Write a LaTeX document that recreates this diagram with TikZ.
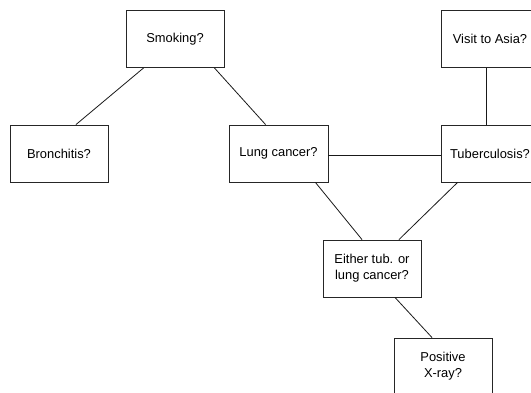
\documentclass[tikz,border=0pt]{standalone}
\usepackage{fontspec}
\setmainfont{Liberation Sans}
\begin{document}
\begin{tikzpicture}[x=1pt,y=-1pt,
  box/.style={draw=black!85, line width=0.9pt, minimum width=98pt, minimum height=57pt, inner sep=0pt, align=center, font=\fontsize{12.9}{16}\selectfont},
  link/.style={draw=black!90, line width=0.8pt}]
\useasboundingbox (0,0) rectangle (531,392);
\clip (0,0) rectangle (531,392);
\node[box] (smoking) at (175,39) {Smoking?};
\node[box] (bron) at (59,153.5) {Bronchitis?};
\node[box, minimum width=99pt] (lung) at (278.5,153.5) {Lung cancer?};
\node[box] (visit) at (490,39) {Visit to Asia?};
\node[box] (tub) at (490,153.5) {Tuberculosis?};
\node[box] (either) at (372,268.5) {Either tub. or\\lung cancer?};
\node[box] (pos) at (443,366.5) {Positive\\X-ray?};
\draw[link] ([xshift=18pt]smoking.south west) -- ([xshift=17pt]bron.north);
\draw[link] ([xshift=-10pt]smoking.south east) -- ([xshift=37pt]lung.north west);
\draw[link] ([yshift=-2pt]lung.east) -- ([yshift=-2pt]tub.west);
\draw[link] ([xshift=-4pt]visit.south) -- ([xshift=-4pt]tub.north);
\draw[link] ([xshift=-13pt]lung.south east) -- ([xshift=-10pt]either.north);
\draw[link] ([xshift=17pt]tub.south west) -- ([xshift=27pt]either.north);
\draw[link] ([xshift=23pt]either.south) -- ([xshift=-11pt]pos.north);
\end{tikzpicture}
\end{document}
